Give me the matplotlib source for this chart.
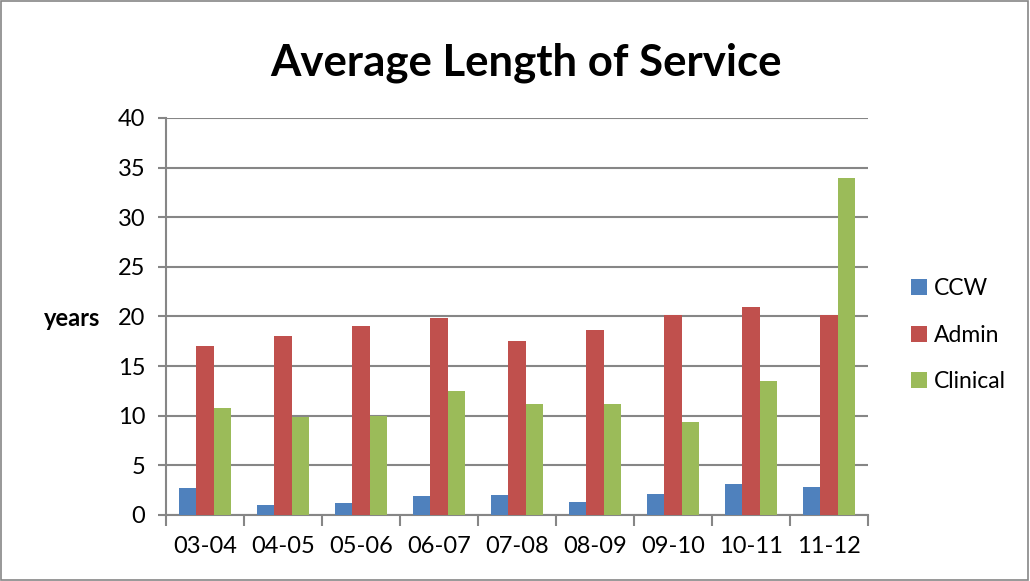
import numpy as np
import matplotlib
matplotlib.use("Agg")
import matplotlib.pyplot as plt
from matplotlib.patches import Rectangle

plt.rcParams['font.family'] = ['Lato', 'DejaVu Sans']

# data
periods = ['03-04', '04-05', '05-06', '06-07', '07-08', '08-09', '09-10', '10-11', '11-12']
ccw = [2.7, 1.0, 1.2, 1.9, 2.0, 1.3, 2.1, 3.1, 2.8]
admin = [17.0, 18.0, 19.0, 19.8, 17.5, 18.6, 20.1, 21.0, 20.1]
clinical = [10.8, 9.9, 10.0, 12.5, 11.2, 11.2, 9.4, 13.5, 34.0]
series_names = ['CCW', 'Admin', 'Clinical']
colors = ['#4F81BD', '#C0504D', '#9BBB59']

fig = plt.figure(figsize=(10.3, 5.81), dpi=100)
ax = fig.add_axes([0.1612, 0.1136, 0.6816, 0.6834])

x = np.arange(len(periods))
w = 0.222
for i, (vals, name, c) in enumerate(zip([ccw, admin, clinical], series_names, colors)):
    ax.bar(x + (i - 1) * w, vals, width=w, color=c, label=name, zorder=3)

ax.set_xlim(-0.5, len(periods) - 0.5)
ax.set_ylim(0, 40)
ax.set_yticks(range(0, 41, 5))
ax.yaxis.grid(True, color='#868686', linewidth=1.5, zorder=0)
ax.set_axisbelow(True)

ax.set_xticks(x)
ax.set_xticklabels(periods, fontsize=17)
ax.set_xticks(np.arange(-0.5, len(periods), 1), minor=True)
ax.tick_params(axis='x', which='major', length=0, pad=15)
ax.tick_params(axis='x', which='minor', length=8, width=1.5, color='#868686', direction='out')
ax.tick_params(axis='y', labelsize=17, length=6, width=1.5, color='#868686', pad=9)

for s in ['top', 'right']:
    ax.spines[s].set_visible(False)
for s in ['left', 'bottom']:
    ax.spines[s].set_color('#868686')
    ax.spines[s].set_linewidth(1.5)

ax.set_ylabel('years', fontsize=17, fontweight='bold', rotation=0, va='center')
ax.yaxis.set_label_coords(-0.134, 0.494)

fig.text(0.511, 0.892, 'Average Length of Service', ha='center', va='center',
         fontsize=31.5, fontweight='bold')

ax.legend(loc='center left', bbox_to_anchor=(1.032, 0.453), frameon=False, fontsize=16.5,
          handlelength=0.7, handleheight=0.7, handletextpad=0.3, labelspacing=1.1)

fig.patches.append(Rectangle((0.001, 0.001), 0.997, 0.997, transform=fig.transFigure,
                             fill=False, edgecolor='#868686', linewidth=1.2))

fig.savefig('out.png', dpi=100)
